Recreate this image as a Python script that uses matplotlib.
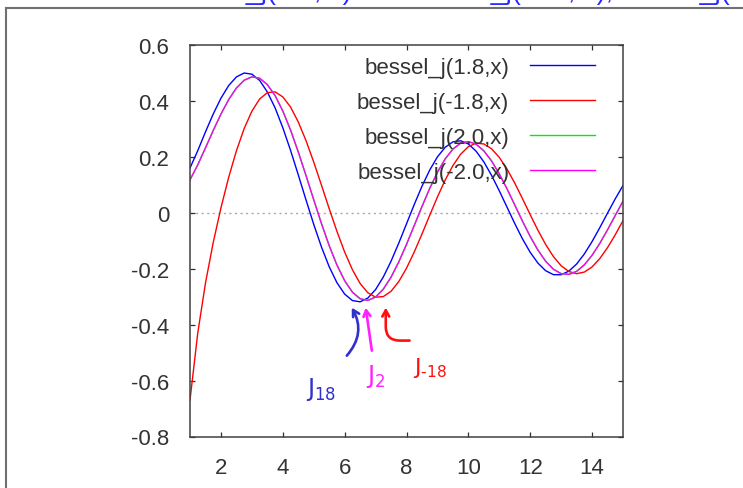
import matplotlib.pyplot as plt
from matplotlib.lines import Line2D

# sample points and Bessel values J_nu(x)
x = [1.0, 1.25, 1.5, 1.75, 2.0, 2.25, 2.5, 2.75, 3.0, 3.25, 3.5, 3.75, 4.0, 4.25,
     4.5, 4.75, 5.0, 5.25, 5.5, 5.75, 6.0, 6.25, 6.5, 6.75, 7.0, 7.25, 7.5, 7.75,
     8.0, 8.25, 8.5, 8.75, 9.0, 9.25, 9.5, 9.75, 10.0, 10.25, 10.5, 10.75, 11.0,
     11.25, 11.5, 11.75, 12.0, 12.25, 12.5, 12.75, 13.0, 13.25, 13.5, 13.75, 14.0,
     14.25, 14.5, 14.75, 15.0]

j_p18 = [0.160, 0.2220, 0.2891, 0.3530, 0.4096, 0.4549, 0.4858, 0.4998, 0.4957,
         0.4736, 0.4321, 0.3756, 0.3044, 0.2237, 0.1359, 0.0464, -0.0412, -0.1221,
         -0.1928, -0.2498, -0.2907, -0.3138, -0.3184, -0.3049, -0.2746, -0.2297,
         -0.1732, -0.1085, -0.0396, 0.0295, 0.0948, 0.1527, 0.1999, 0.2341, 0.2536,
         0.2575, 0.2461, 0.2203, 0.1821, 0.1338, 0.0787, 0.0201, -0.0384, -0.0933,
         -0.1415, -0.1801, -0.2072, -0.2212, -0.2216, -0.2085, -0.1832, -0.1472,
         -0.1029, -0.0532, -0.0011, 0.0501, 0.0975]

j_m18 = [-0.670, -0.4308, -0.2513, -0.1069, 0.0174, 0.1266, 0.2214, 0.3009, 0.3631,
         0.4068, 0.4295, 0.4325, 0.4145, 0.3784, 0.3249, 0.2584, 0.1814, 0.0990,
         0.0148, -0.0662, -0.1403, -0.2034, -0.2528, -0.2860, -0.3018, -0.2997,
         -0.2807, -0.2460, -0.1982, -0.1403, -0.0760, -0.0091, 0.0565, 0.1169,
         0.1688, 0.2094, 0.2365, 0.2489, 0.2462, 0.2288, 0.1982, 0.1564, 0.1062,
         0.0506, -0.0068, -0.0626, -0.1135, -0.1565, -0.1894, -0.2100, -0.2177,
         -0.2120, -0.1936, -0.1637, -0.1245, -0.0784, -0.0283]

j_p20 = [0.118, 0.1711, 0.2321, 0.2940, 0.3528, 0.4047, 0.4461, 0.4739, 0.4861,
         0.4811, 0.4586, 0.4191, 0.3641, 0.2960, 0.2178, 0.1334, 0.0466, -0.0384,
         -0.1174, -0.1866, -0.2429, -0.2837, -0.3074, -0.3133, -0.3014, -0.2731,
         -0.2303, -0.1758, -0.1130, -0.0456, 0.0223, 0.0870, 0.1448, 0.1926, 0.2279,
         0.2488, 0.2546, 0.2453, 0.2216, 0.1854, 0.1390, 0.0855, 0.0280, -0.0300,
         -0.0849, -0.1336, -0.1734, -0.2019, -0.2177, -0.2202, -0.2094, -0.1861,
         -0.1520, -0.1094, -0.0609, -0.0095, 0.0416]

# integer order: J_-2 equals J_2
j_m20 = list(j_p20)

labels = ['bessel_j(1.8,x)', 'bessel_j(-1.8,x)', 'bessel_j(2.0,x)', 'bessel_j(-2.0,x)']
colors = ['#0000ff', '#ff0000', '#00ee00', '#ff00ff']

xticks = [2, 4, 6, 8, 10, 12, 14]
yticks = [0.6, 0.4, 0.2, 0, -0.2, -0.4, -0.6, -0.8]
ytick_labels = ['0.6', '0.4', '0.2', '0', '-0.2', '-0.4', '-0.6', '-0.8']

W, H = 743, 489
fig = plt.figure(figsize=(W / 100, H / 100), dpi=100)
fig.patch.set_facecolor('white')

# window frame and the blue heading line running off the top edge
fy = 1 - 9 / H
fig.add_artist(Line2D([6 / W, 1.0], [fy, fy], color='#707070', lw=1.5))
fig.add_artist(Line2D([6 / W, 6 / W], [0, fy], color='#707070', lw=1.5))
fig.text(167 / W, 1 + 1 / H, 'bessel_j(1.8, x) and bessel_j(-1.8, x), bessel_j(2, x), j(-2, x)',
         color='#2a2aff', fontsize=19.5, family='Liberation Sans', va='baseline')

ax = fig.add_axes([190 / W, 1 - 437.5 / H, 433 / W, 391.5 / H])

for ys, c, lab in zip([j_p18, j_m18, j_p20, j_m20], colors, labels):
    ax.plot(x, ys, color=c, lw=1.0, label=lab)

ax.axhline(0, color='#a8a8a8', lw=1.0, ls=(0, (1.5, 2.5)), zorder=0)

ax.set_xlim(1, 15)
ax.set_ylim(-0.8, 0.6)
ax.set_xticks(xticks)
ax.set_xticklabels([str(t) for t in xticks])
ax.set_yticks(yticks)
ax.set_yticklabels(ytick_labels)
ax.tick_params(direction='in', top=True, right=True, length=3.8, width=0.9,
               color='#303030', labelsize=16, labelcolor='#333333')
ax.tick_params(axis='x', pad=15)
ax.tick_params(axis='y', pad=15)
for lab in ax.get_xticklabels() + ax.get_yticklabels():
    lab.set_family('Liberation Sans')
for sp in ax.spines.values():
    sp.set_color('#404040')
    sp.set_linewidth(1.1)

leg = ax.legend(loc='upper right', bbox_to_anchor=(0.935, 0.970), frameon=False,
                markerfirst=False, borderpad=0, borderaxespad=0,
                handlelength=2.9, handletextpad=0.95, labelspacing=0.63,
                prop={'family': 'Liberation Sans', 'size': 16}, labelcolor='#333333')

# hand-drawn notes pointing at the first minima
hand = dict(lw=1.9, shrinkA=0, shrinkB=0)
head = '->,head_length=0.45,head_width=0.25'
ax.annotate('', xy=(6.23, -0.339), xytext=(6.07, -0.511),
            arrowprops=dict(arrowstyle=head, color='#3030cc',
                            connectionstyle='arc3,rad=0.35', **hand))
ax.annotate('', xy=(6.68, -0.339), xytext=(6.88, -0.493),
            arrowprops=dict(arrowstyle=head, color='#ff20ff',
                            connectionstyle='arc3,rad=0', **hand))
ax.annotate('', xy=(7.33, -0.339), xytext=(8.10, -0.457),
            arrowprops=dict(arrowstyle=head, color='#ff1010',
                            connectionstyle='angle,angleA=0,angleB=90,rad=14', **hand))
ax.text(5.23, -0.629, r'$\mathsf{J}_{18}$', color='#3030cc', fontsize=17,
        ha='center', va='center')
ax.text(7.0, -0.582, r'$\mathsf{J}_{2}$', color='#ff20ff', fontsize=17,
        ha='center', va='center')
ax.text(8.75, -0.55, r'$\mathsf{J}_{\text{-}18}$', color='#ff1010', fontsize=16,
        ha='center', va='center')

fig.savefig('out.png', dpi=100, facecolor='white')
